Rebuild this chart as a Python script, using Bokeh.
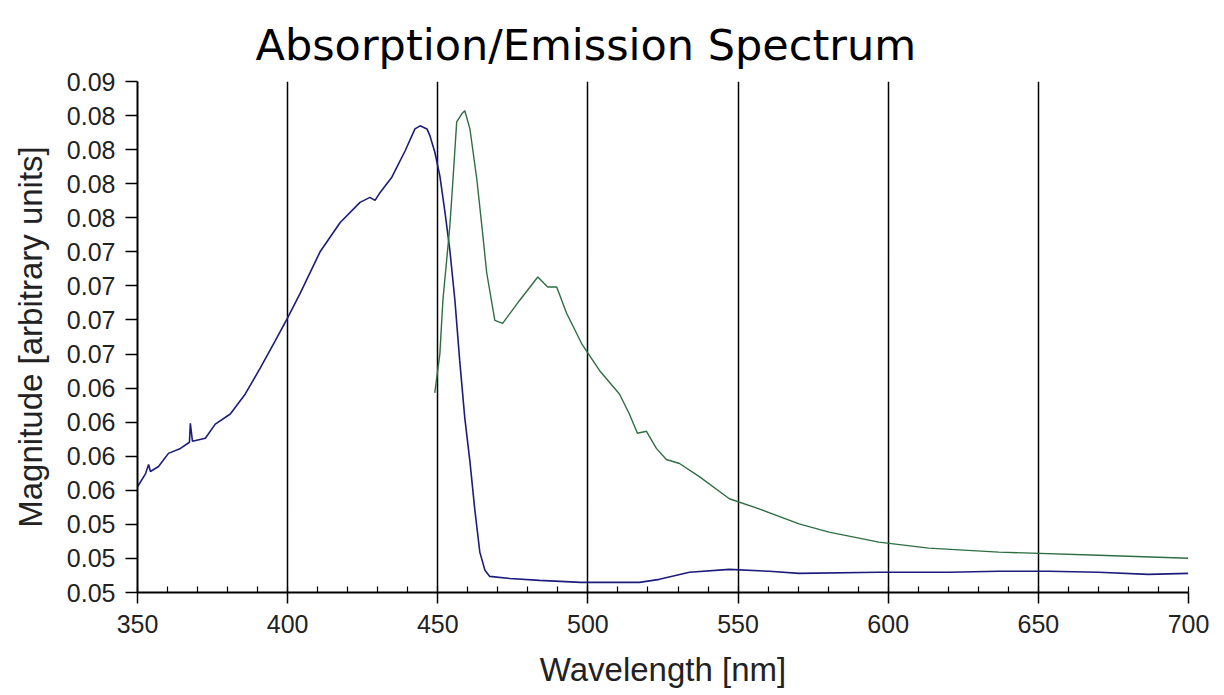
import numpy as np
from bokeh.plotting import figure
from bokeh.models import FixedTicker, Range1d
from bokeh.embed import file_html
from bokeh.resources import INLINE

# Absorption (blue) curve: wavelength [nm], magnitude
abs_nm = [350.0, 352.7, 353.7, 354.3, 357.0, 360.3, 364.3, 367.3, 367.6, 368.3,
          372.6, 375.9, 380.9, 385.9, 390.9, 395.9, 399.9, 404.2, 410.8, 417.5,
          424.1, 427.4, 429.1, 430.8, 434.7, 439.1, 442.4, 444.1, 446.4, 447.4,
          449.0, 450.7, 452.4, 454.0, 455.7, 457.3, 459.0, 460.7, 462.3, 464.0,
          465.7, 467.3, 474.0, 483.9, 497.6, 517.2, 523.8, 533.8, 547.1, 560.4,
          570.3, 596.9, 620.2, 636.8, 653.4, 670.0, 686.6, 699.9]
abs_val = [0.05828, 0.05931, 0.06002, 0.05947, 0.05986, 0.06089, 0.06128, 0.06176, 0.06325, 0.06184,
           0.06207, 0.06318, 0.06397, 0.06554, 0.06759, 0.06972, 0.07146, 0.07343, 0.07667, 0.07896,
           0.08054, 0.08093, 0.08069, 0.08132, 0.08251, 0.08456, 0.08629, 0.08653, 0.08629, 0.08574,
           0.08448, 0.08259, 0.07975, 0.07683, 0.07288, 0.06815, 0.06365, 0.06026, 0.05655, 0.05316,
           0.05174, 0.05126, 0.05110, 0.05095, 0.05079, 0.05079, 0.05103, 0.05158, 0.05181, 0.05166,
           0.05150, 0.05158, 0.05158, 0.05166, 0.05166, 0.05158, 0.05142, 0.05150]

# Emission (green) curve
emi_nm = [449.0, 450.7, 451.7, 454.0, 455.0, 456.3, 458.0, 459.0, 460.7, 463.0,
          464.7, 466.3, 469.0, 471.6, 477.3, 483.3, 486.6, 489.6, 492.9, 497.9,
          503.9, 510.5, 513.8, 516.5, 519.5, 522.8, 526.1, 530.5, 537.1, 547.1,
          557.0, 570.3, 580.3, 596.9, 613.5, 636.8, 670.0, 699.9]
emi_val = [0.06562, 0.06870, 0.07288, 0.07864, 0.08211, 0.08684, 0.08747, 0.08771, 0.08629, 0.08235,
           0.07864, 0.07501, 0.07130, 0.07107, 0.07288, 0.07470, 0.07391, 0.07391, 0.07186, 0.06949,
           0.06736, 0.06554, 0.06397, 0.06247, 0.06262, 0.06128, 0.06041, 0.06010, 0.05907, 0.05734,
           0.05655, 0.05537, 0.05473, 0.05394, 0.05347, 0.05316, 0.05292, 0.05268]

title_text = "Absorption/Emission Spectrum"
x_ticks = [350, 400, 450, 500, 550, 600, 650, 700]
y_tick_labels = ["0.05", "0.05", "0.05", "0.06", "0.06", "0.06", "0.06", "0.07",
                 "0.07", "0.07", "0.07", "0.08", "0.08", "0.08", "0.08", "0.09"]

Y_MIN, Y_MAX = 0.05, 0.09
y_ticks = list(np.linspace(Y_MIN, Y_MAX, len(y_tick_labels)))

FONT = "Liberation Sans"

p = figure(width=1216, height=690, output_backend="svg", toolbar_location=None,
           x_range=Range1d(350, 700), y_range=Range1d(Y_MIN, Y_MAX),
           title=title_text,
           min_border_left=137, min_border_right=28, min_border_top=81, min_border_bottom=98)
p.outline_line_color = None
p.background_fill_color = "white"
p.border_fill_color = "white"

p.title.text_font = "DejaVu Sans"
p.title.text_font_size = "43px"
p.title.text_font_style = "normal"
p.title.text_color = "black"
p.title.align = "left"
p.title.vertical_align = "bottom"
p.title.offset = 118
p.title.standoff = 24

# grids
p.ygrid.grid_line_color = None
p.xgrid.ticker = FixedTicker(ticks=x_ticks)
p.xgrid.grid_line_color = "black"
p.xgrid.grid_line_width = 1.5
p.xgrid.grid_line_alpha = 1.0

# x axis
p.xaxis.ticker = FixedTicker(ticks=x_ticks, minor_ticks=list(range(350, 701, 10)))
p.xaxis.axis_label = "Wavelength [nm]"
p.xaxis.axis_label_text_font = FONT
p.xaxis.axis_label_text_font_size = "33px"
p.xaxis.axis_label_text_font_style = "normal"
p.xaxis.axis_label_text_color = "#222222"
p.xaxis.axis_label_standoff = 15
p.xaxis.major_label_text_font = FONT
p.xaxis.major_label_text_font_size = "25px"
p.xaxis.major_label_text_color = "#222222"
p.xaxis.major_label_standoff = 11
p.xaxis.axis_line_color = "black"
p.xaxis.axis_line_width = 2
p.xaxis.major_tick_line_color = "black"
p.xaxis.major_tick_line_width = 1.5
p.xaxis.major_tick_out = 11
p.xaxis.major_tick_in = 0
p.xaxis.minor_tick_line_color = "black"
p.xaxis.minor_tick_line_width = 1.2
p.xaxis.minor_tick_in = 6
p.xaxis.minor_tick_out = 0

# y axis
p.yaxis.ticker = FixedTicker(ticks=y_ticks, minor_ticks=[])
p.yaxis.major_label_overrides = {t: lab for t, lab in zip(y_ticks, y_tick_labels)}
p.yaxis.axis_label = "Magnitude [arbitrary units]"
p.yaxis.axis_label_text_font = FONT
p.yaxis.axis_label_text_font_size = "33px"
p.yaxis.axis_label_text_font_style = "normal"
p.yaxis.axis_label_text_color = "#222222"
p.yaxis.axis_label_standoff = 15
p.yaxis.major_label_text_font = FONT
p.yaxis.major_label_text_font_size = "25px"
p.yaxis.major_label_text_color = "#222222"
p.yaxis.major_label_standoff = 10
p.yaxis.axis_line_color = "black"
p.yaxis.axis_line_width = 2
p.yaxis.major_tick_line_color = "black"
p.yaxis.major_tick_line_width = 1.5
p.yaxis.major_tick_out = 12
p.yaxis.major_tick_in = 0

p.line(abs_nm, abs_val, line_color="#1c1c7c", line_width=1.6)
p.line(emi_nm, emi_val, line_color="#2f6e42", line_width=1.4)

open("out.html", "w").write(file_html(p, INLINE))
